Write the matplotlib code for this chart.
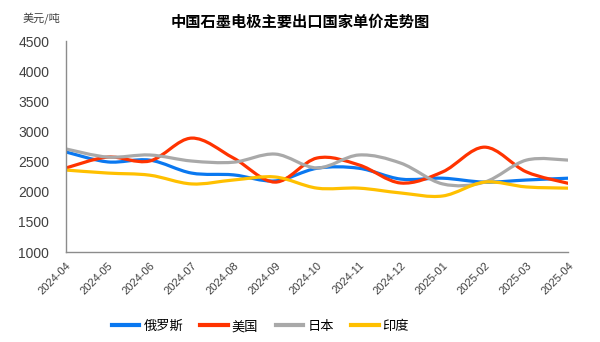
import matplotlib
matplotlib.use("Agg")
import matplotlib.pyplot as plt
import numpy as np
from matplotlib.path import Path
from matplotlib.patches import PathPatch
from matplotlib.lines import Line2D

plt.rcParams['font.family'] = ['Liberation Sans', 'Noto Sans CJK SC', 'DejaVu Sans']

months = ["2024-04", "2024-05", "2024-06", "2024-07", "2024-08", "2024-09",
          "2024-10", "2024-11", "2024-12", "2025-01", "2025-02", "2025-03",
          "2025-04"]
russia = [2660, 2495, 2525, 2310, 2280, 2180, 2390, 2390, 2210, 2225, 2160, 2195, 2225]
usa = [2395, 2575, 2510, 2890, 2560, 2160, 2560, 2445, 2145, 2330, 2740, 2330, 2140]
japan = [2710, 2575, 2610, 2510, 2490, 2625, 2395, 2610, 2475, 2130, 2160, 2525, 2525]
india = [2360, 2310, 2275, 2130, 2195, 2245, 2060, 2060, 1980, 1930, 2160, 2080, 2060]

series = [("俄罗斯", russia, "#0A78F0"),
          ("美国", usa, "#FF3300"),
          ("日本", japan, "#A9A9A9"),
          ("印度", india, "#FFC000")]


def smooth_path(xs, ys, t=1.0 / 6):
    # Catmull-Rom style curve through every point, as cubic Bezier segments
    xs = np.asarray(xs, float)
    ys = np.asarray(ys, float)
    n = len(xs)
    verts = [(xs[0], ys[0])]
    codes = [Path.MOVETO]
    for i in range(n - 1):
        p0 = max(i - 1, 0)
        p3 = min(i + 2, n - 1)
        c1 = (xs[i] + (xs[i + 1] - xs[p0]) * t, ys[i] + (ys[i + 1] - ys[p0]) * t)
        c2 = (xs[i + 1] - (xs[p3] - xs[i]) * t, ys[i + 1] - (ys[p3] - ys[i]) * t)
        verts += [c1, c2, (xs[i + 1], ys[i + 1])]
        codes += [Path.CURVE4] * 3
    return Path(verts, codes)


fig = plt.figure(figsize=(6, 3.42), dpi=100)
ax = fig.add_axes([0.11, 0.263, 0.837, 0.617])

x = np.arange(len(months))
handles = []
for name, vals, color in series:
    patch = PathPatch(smooth_path(x, vals), facecolor="none", edgecolor=color,
                      lw=2.3, capstyle="round", joinstyle="round")
    ax.add_patch(patch)
    handles.append(Line2D([], [], color=color, lw=3, label=name))

ax.set_xlim(0, len(months) - 1)
ax.set_ylim(1000, 4500)
ax.set_yticks(np.arange(1000, 4501, 500))
ax.set_xticks(x)
ax.set_xticklabels(months, rotation=45, ha="right", rotation_mode="anchor")
ax.tick_params(axis="both", length=0, colors="#404040")
ax.tick_params(axis="x", pad=6, labelsize=8)
ax.tick_params(axis="y", pad=12, labelsize=10)

for side in ("top", "right"):
    ax.spines[side].set_visible(False)
for side in ("left", "bottom"):
    ax.spines[side].set_color("#8C8C8C")
    ax.spines[side].set_linewidth(1.0)

fig.text(0.5, 0.935, "中国石墨电极主要出口国家单价走势图", ha="center", va="center",
         fontsize=11, fontweight="bold", family=["Noto Sans CJK SC"])
fig.text(0.037, 0.948, "美元/吨", ha="left", va="center", fontsize=8,
         color="#404040", family=["Noto Sans CJK SC"])

fig.legend(handles=handles, loc="center", bbox_to_anchor=(0.434, 0.045), ncol=4,
           frameon=False, handlelength=2.1, handletextpad=0.3,
           columnspacing=1.3, prop={"family": ["Noto Sans CJK SC"], "size": 9.5})

fig.savefig("out.png", dpi=100)
